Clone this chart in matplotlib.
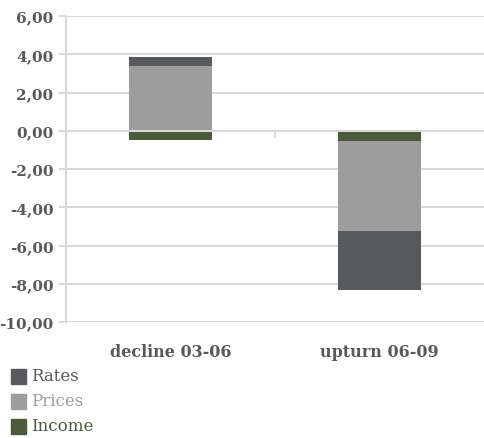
import matplotlib.pyplot as plt
import numpy as np
from matplotlib.patches import Rectangle

categories = ['decline 03-06', 'upturn 06-09']
income = [-0.47, -0.54]
prices = [3.40, -4.70]
rates = [0.47, -3.08]

series = [('Income', income, '#4A5A3B'),
          ('Prices', prices, '#9D9D9E'),
          ('Rates', rates, '#58595C')]

plt.rcParams['font.family'] = 'DejaVu Serif'

fig = plt.figure(figsize=(4.84, 4.39), dpi=100)
ax = fig.add_axes([0.136, 0.264, 0.864, 0.697])

x = np.arange(len(categories))
pos = np.zeros(len(categories))
neg = np.zeros(len(categories))
for name, vals, col in series:
    vals = np.array(vals)
    base = np.where(vals >= 0, pos, neg)
    ax.bar(x, vals, 0.4, bottom=base, color=col, zorder=3, label=name)
    pos = pos + np.where(vals >= 0, vals, 0)
    neg = neg + np.where(vals < 0, vals, 0)

ax.set_xlim(-0.5, 1.5)
ax.set_ylim(-10, 6)
ticks = np.arange(-10, 7, 2)
ax.set_yticks(ticks)
ax.set_yticklabels([('%.2f' % v).replace('.', ',') for v in ticks])
ax.grid(axis='y', color='#D9D9D9', linewidth=1.5, zorder=0)
ax.axhline(0, color='#D9D9D9', linewidth=1.5, zorder=4)
# category separator tick on the zero line
ax.plot([0.5, 0.5], [0, -0.3], color='#D9D9D9', linewidth=1.5, zorder=4)

for s in ['top', 'right', 'bottom']:
    ax.spines[s].set_visible(False)
ax.spines['left'].set_color('#D9D9D9')
ax.spines['left'].set_linewidth(1.5)
ax.tick_params(axis='y', length=5, width=1.5, color='#D9D9D9',
               labelsize=11, labelcolor='#595959', pad=4)
ax.tick_params(axis='x', length=0, labelsize=11.5, labelcolor='#595959', pad=15)
ax.set_xticks(x)
ax.set_xticklabels(categories)
for t in ax.get_yticklabels() + ax.get_xticklabels():
    t.set_fontweight('bold')

# legend with coloured text
for i, (name, vals, col) in enumerate(reversed(series)):
    y = 1 - (377 + 25 * i) / 439
    fig.patches.append(Rectangle((11 / 484, y - 7.5 / 439), 15 / 484, 15 / 439,
                                 transform=fig.transFigure, color=col))
    fig.text(31 / 484, y, name, color=col, fontsize=12, va='center', ha='left')

fig.savefig('out.png', dpi=100)
